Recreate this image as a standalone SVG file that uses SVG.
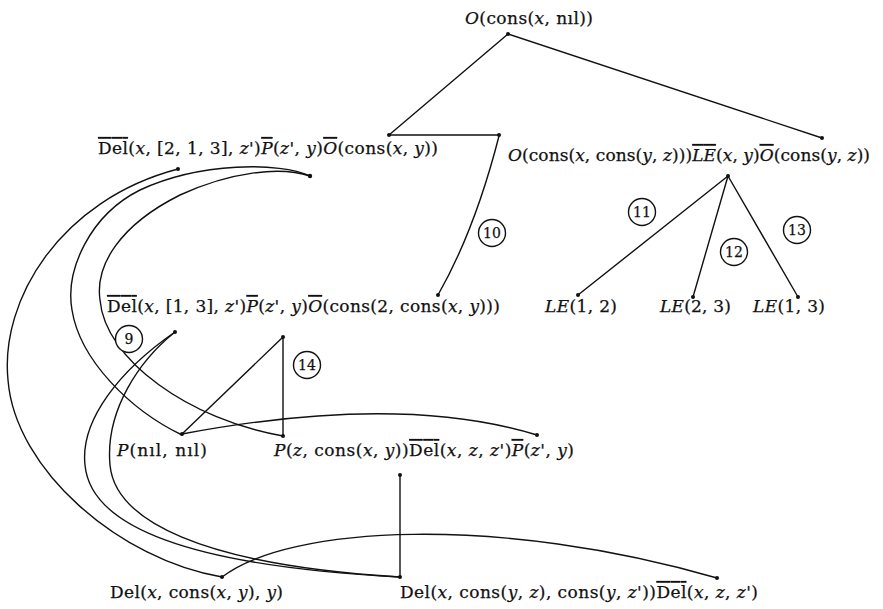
<svg xmlns="http://www.w3.org/2000/svg" width="883" height="609" viewBox="0 0 883 609">
<defs>
<style>
text{font-family:"DejaVu Serif","Liberation Serif",serif;font-size:17px;fill:#111;stroke:#111;stroke-width:0.25}
.i{font-style:italic}
.ov{text-decoration:overline}
.e{fill:none;stroke:#111;stroke-width:1.4;stroke-linecap:round;stroke-linejoin:round}
.d{fill:#111}
.c{fill:#fff;stroke:#111;stroke-width:1.4}
.n{font-size:14px;text-anchor:middle}
</style>
</defs>
<rect width="883" height="609" fill="#fff"/>
<g id="connectors">
<path class="e" d="M508,34 L389,135"/>
<path class="e" d="M508,34 L822,138"/>
<path class="e" d="M389,135 L499,135"/>
<path class="e" d="M499,136 Q475,230 438,295"/>
<path class="e" d="M728,176 L578,295"/>
<path class="e" d="M728,176 L693,297"/>
<path class="e" d="M728,176 L798,297"/>
<path class="e" d="M178,169 C60,200 0,300 8,380 C15,470 120,560 222,577"/>
<path class="e" d="M310,176 C280,162 200,162 140,190 C90,215 65,270 72,310 C80,360 130,410 182,435"/>
<path class="e" d="M310,176 C280,166 230,172 180,195 C120,225 95,265 100,300 C105,360 190,420 283,436"/>
<path class="e" d="M175,332 C120,370 80,420 85,465 C90,520 170,565 400,577"/>
<path class="e" d="M175,332 C140,360 105,410 110,465 C115,520 200,565 400,577"/>
<path class="e" d="M182,434 L283,337 L283,436"/>
<path class="e" d="M182,434 Q400,393 537,435"/>
<path class="e" d="M400,475 L400,577"/>
<path class="e" d="M222,577 C290,525 500,515 717,578"/>
</g>
<g id="n_root">
<text x="465" y="24" textLength="128"><tspan class="i">O</tspan>(cons(<tspan class="i">x</tspan>, nıl))</text>
<circle class="d" cx="508" cy="34" r="2"/>
</g>
<g id="n_left1">
<text x="98" y="154" textLength="340"><tspan class="ov">Del</tspan>(<tspan class="i">x</tspan>, [2, 1, 3], <tspan class="i">z'</tspan>)<tspan class="i ov">P</tspan>(<tspan class="i">z'</tspan>, <tspan class="i">y</tspan>)<tspan class="i ov">O</tspan>(cons(<tspan class="i">x</tspan>, <tspan class="i">y</tspan>))</text>
<circle class="d" cx="389" cy="135" r="2"/>
<circle class="d" cx="499" cy="135" r="2"/>
<circle class="d" cx="178" cy="169" r="2"/>
<circle class="d" cx="310" cy="176" r="2.2"/>
</g>
<g id="n_right1">
<text x="508" y="161" textLength="362"><tspan class="i">O</tspan>(cons(<tspan class="i">x</tspan>, cons(<tspan class="i">y</tspan>, <tspan class="i">z</tspan>)))<tspan class="i ov">LE</tspan>(<tspan class="i">x</tspan>, <tspan class="i">y</tspan>)<tspan class="i ov">O</tspan>(cons(<tspan class="i">y</tspan>, <tspan class="i">z</tspan>))</text>
<circle class="d" cx="822" cy="138" r="2"/>
<circle class="d" cx="728" cy="176" r="2"/>
</g>
<g id="n_le12">
<text x="545" y="312" textLength="72"><tspan class="i">LE</tspan>(1, 2)</text>
<circle class="d" cx="578" cy="295" r="2"/>
</g>
<g id="n_le23">
<text x="660" y="312" textLength="71"><tspan class="i">LE</tspan>(2, 3)</text>
<circle class="d" cx="693" cy="297" r="2"/>
</g>
<g id="n_le13">
<text x="753" y="312" textLength="72"><tspan class="i">LE</tspan>(1, 3)</text>
<circle class="d" cx="798" cy="297" r="2"/>
</g>
<g id="n_left2">
<text x="107" y="312" textLength="393"><tspan class="ov">Del</tspan>(<tspan class="i">x</tspan>, [1, 3], <tspan class="i">z'</tspan>)<tspan class="i ov">P</tspan>(<tspan class="i">z'</tspan>, <tspan class="i">y</tspan>)<tspan class="i ov">O</tspan>(cons(2, cons(<tspan class="i">x</tspan>, <tspan class="i">y</tspan>)))</text>
<circle class="d" cx="438" cy="295" r="2"/>
<circle class="d" cx="175" cy="332" r="2"/>
<circle class="d" cx="283" cy="337" r="2"/>
</g>
<g id="n_pnil">
<text x="117" y="456" textLength="90"><tspan class="i">P</tspan>(nıl, nıl)</text>
<circle class="d" cx="182" cy="434" r="2"/>
</g>
<g id="n_pz">
<text x="274" y="456" textLength="300"><tspan class="i">P</tspan>(<tspan class="i">z</tspan>, cons(<tspan class="i">x</tspan>, <tspan class="i">y</tspan>))<tspan class="ov">Del</tspan>(<tspan class="i">x</tspan>, <tspan class="i">z</tspan>, <tspan class="i">z'</tspan>)<tspan class="i ov">P</tspan>(<tspan class="i">z'</tspan>, <tspan class="i">y</tspan>)</text>
<circle class="d" cx="283" cy="436" r="2"/>
<circle class="d" cx="537" cy="435" r="2"/>
<circle class="d" cx="400" cy="475" r="2"/>
</g>
<g id="n_del1">
<text x="110" y="598" textLength="173">Del(<tspan class="i">x</tspan>, cons(<tspan class="i">x</tspan>, <tspan class="i">y</tspan>), <tspan class="i">y</tspan>)</text>
<circle class="d" cx="222" cy="577" r="2"/>
</g>
<g id="n_del2">
<text x="400" y="598" textLength="358">Del(<tspan class="i">x</tspan>, cons(<tspan class="i">y</tspan>, <tspan class="i">z</tspan>), cons(<tspan class="i">y</tspan>, <tspan class="i">z'</tspan>))<tspan class="ov">Del</tspan>(<tspan class="i">x</tspan>, <tspan class="i">z</tspan>, <tspan class="i">z'</tspan>)</text>
<circle class="d" cx="400" cy="577" r="2"/>
<circle class="d" cx="717" cy="578" r="2"/>
</g>
<g id="labels">
<circle class="c" cx="129" cy="339" r="13.5"/><text class="n" x="129" y="344">9</text>
<circle class="c" cx="492" cy="233" r="13.5"/><text class="n" x="492" y="238">10</text>
<circle class="c" cx="642" cy="212" r="13.5"/><text class="n" x="642" y="217">11</text>
<circle class="c" cx="734" cy="252" r="13.5"/><text class="n" x="734" y="257">12</text>
<circle class="c" cx="797" cy="230" r="13.5"/><text class="n" x="797" y="235">13</text>
<circle class="c" cx="307" cy="365" r="13.5"/><text class="n" x="307" y="370">14</text>
</g>
</svg>
